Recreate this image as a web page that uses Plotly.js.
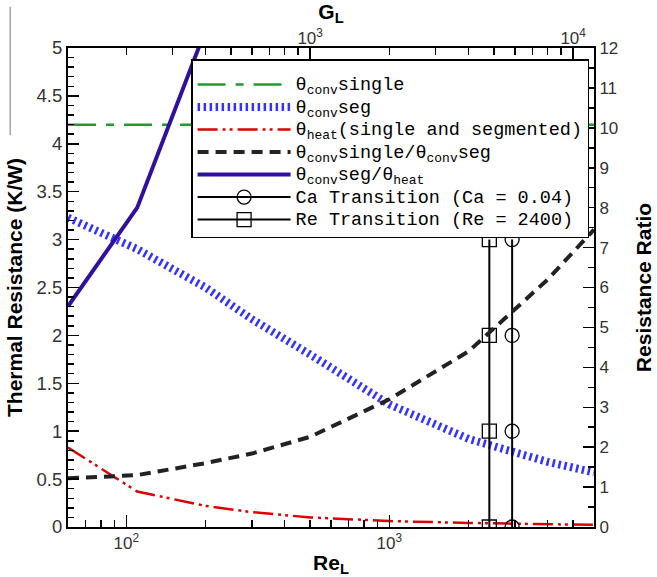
<!DOCTYPE html>
<html>
<head>
<meta charset="utf-8">
<script src="https://cdn.plot.ly/plotly-3.0.1.min.js"></script>
<style>html,body{margin:0;padding:0;background:#fff;}#chart{width:657px;height:577px;}</style>
</head>
<body>
<div id="chart"></div>
<script>
// Reynolds number samples (bottom axis)
const reL = [60, 110, 200, 300, 500, 1000, 2000, 4000, 6000];
// Top axis quantity G_L (= 2 x Re_L on this chart)
const gL = [120, 220, 400, 600, 1000, 2000, 4000, 8000, 12000];
// Left axis: thermal resistance (K/W)
const convSingle = [4.2, 4.2, 4.2, 4.2, 4.2, 4.2, 4.2, 4.2, 4.2];
const convSeg = [3.23, 2.90, 2.50, 2.17, 1.80, 1.28, 0.92, 0.68, 0.57];
const heat = [0.83, 0.37, 0.22, 0.155, 0.10, 0.062, 0.042, 0.030, 0.022];
// Right axis: resistance ratios
const ratioSingleSeg = [1.22, 1.30, 1.60, 1.84, 2.26, 3.2, 4.4, 6.2, 7.45];
const ratioSegHeat = [5.53, 8.0, 12.45, null, null, null, null, null, null];
// Transition markers
const caTransRe = [2930, 2930, 2930, 2930];
const reTransRe = [2400, 2400, 2400, 2400];
const transY = [0, 1, 2, 3];
// Legend names
const names = [
  'θ<sub>conv</sub>single',
  'θ<sub>conv</sub>seg',
  'θ<sub>heat</sub>(single and segmented)',
  'θ<sub>conv</sub>single/θ<sub>conv</sub>seg',
  'θ<sub>conv</sub>seg/θ<sub>heat</sub>',
  'Ca Transition (Ca = 0.04)',
  'Re Transition (Re = 2400)'
];
// Axis ticks
const xMajor = [100, 1000];
const xMajorText = ['10<sup>2</sup>', '10<sup>3</sup>'];
const xMinor = [70, 80, 90, 200, 300, 400, 500, 600, 700, 800, 900, 2000, 3000, 4000, 5000];
const x2Major = [1000, 10000];
const x2MajorText = ['10<sup>3</sup>', '10<sup>4</sup>'];
const x2Minor = [200, 300, 400, 500, 600, 700, 800, 900, 2000, 3000, 4000, 5000, 6000, 7000, 8000, 9000];

const big = s => '<span style="font-size:18.5px">' + s + '</span>';

const traces = [
  {x: reL, y: convSingle, name: big(names[0]), mode: 'lines', xaxis: 'x', yaxis: 'y',
   line: {color: '#1f9a2e', width: 2.5, dash: '28px,10px,8px,10px'}},
  {x: reL, y: convSeg, name: big(names[1]), mode: 'lines', xaxis: 'x', yaxis: 'y',
   line: {color: '#3333ff', width: 8, dash: '2.5px,3.5px'}},
  {x: reL, y: heat, name: big(names[2]), mode: 'lines', xaxis: 'x', yaxis: 'y',
   line: {color: '#dd0000', width: 2.5, dash: '20px,5px,3px,4px,3px,5px'}},
  {x: reL, y: ratioSingleSeg, name: big(names[3]), mode: 'lines', xaxis: 'x', yaxis: 'y2',
   line: {color: '#222222', width: 4, dash: '11px,7px'}},
  {x: reL, y: ratioSegHeat, name: big(names[4]), mode: 'lines', xaxis: 'x', yaxis: 'y2',
   line: {color: '#32109e', width: 4}},
  {x: caTransRe, y: transY, name: big(names[5]), mode: 'lines+markers', xaxis: 'x', yaxis: 'y',
   line: {color: '#000', width: 2},
   marker: {symbol: 'circle-open', size: 14, color: '#000', line: {width: 1.3, color: '#000'}}},
  {x: reTransRe, y: transY, name: big(names[6]), mode: 'lines+markers', xaxis: 'x', yaxis: 'y',
   line: {color: '#000', width: 2},
   marker: {symbol: 'square-open', size: 14, color: '#000', line: {width: 1.3, color: '#000'}}},
  // carrier for the top G_L axis (draws nothing visible)
  {x: gL, y: convSingle, mode: 'lines', xaxis: 'x2', yaxis: 'y', showlegend: false,
   hoverinfo: 'skip', opacity: 0, line: {width: 0, color: 'rgba(0,0,0,0)'}}
];

const tickFont = {family: 'Liberation Sans, Arial, sans-serif', size: 18.5, color: '#333'};
const tickFontSm = {family: 'Liberation Sans, Arial, sans-serif', size: 17, color: '#333'};
const titleFont = {family: 'Liberation Sans, Arial, sans-serif', size: 21, color: '#000', weight: 'bold'};

const layout = {
  width: 657, height: 577,
  margin: {l: 68, r: 63, t: 48, b: 50},
  paper_bgcolor: '#fff', plot_bgcolor: '#fff',
  showlegend: true,
  legend: {
    x: 0.234, y: 0.977, xanchor: 'left', yanchor: 'top',
    bgcolor: '#fff', bordercolor: '#000', borderwidth: 1.5,
    font: {family: 'Liberation Mono, Courier New, monospace', size: 15, color: '#000'},
    title: {text: '&nbsp;', font: {size: 6}},
    itemwidth: 93, traceorder: 'normal'
  },
  xaxis: {
    type: 'log', range: [Math.log10(60), Math.log10(6000)],
    showgrid: false, zeroline: false, showline: true, linecolor: '#000', linewidth: 2,
    ticks: 'inside', ticklen: 12, tickwidth: 1.5, tickcolor: '#000',
    tickmode: 'array', tickvals: xMajor, ticktext: xMajorText,
    minor: {tickmode: 'array', tickvals: xMinor, ticks: 'inside', ticklen: 7, tickwidth: 1.5, tickcolor: '#000', showgrid: false},
    tickfont: tickFontSm,
    title: {text: 'Re<sub>L</sub>', font: titleFont, standoff: 6}
  },
  xaxis2: {
    type: 'log', range: [Math.log10(120), Math.log10(12000)],
    overlaying: 'x', side: 'top', anchor: 'y',
    showgrid: false, zeroline: false, showline: true, linecolor: '#000', linewidth: 2,
    ticks: 'inside', ticklen: 12, tickwidth: 1.5, tickcolor: '#000',
    tickmode: 'array', tickvals: x2Major, ticktext: x2MajorText,
    ticklabelstandoff: -5,
    minor: {tickmode: 'array', tickvals: x2Minor, ticks: 'inside', ticklen: 7, tickwidth: 1.5, tickcolor: '#000', showgrid: false},
    tickfont: tickFontSm,
    title: {text: 'G<sub>L</sub>', font: titleFont, standoff: 0}
  },
  yaxis: {
    range: [0, 5], showgrid: false, zeroline: false, showline: true, linecolor: '#000', linewidth: 2,
    ticks: 'inside', ticklen: 11, tickwidth: 1.5, tickcolor: '#000',
    tickmode: 'linear', tick0: 0, dtick: 0.5,
    minor: {tickmode: 'linear', tick0: 0, dtick: 0.1, ticks: 'inside', ticklen: 6, tickwidth: 1.5, tickcolor: '#000', showgrid: false},
    tickfont: tickFont,
    title: {text: 'Thermal Resistance (K/W)', font: titleFont, standoff: 8}
  },
  yaxis2: {
    range: [0, 12], overlaying: 'y', side: 'right', anchor: 'x',
    showgrid: false, zeroline: false, showline: true, linecolor: '#000', linewidth: 2,
    ticks: 'inside', ticklen: 11, tickwidth: 1.5, tickcolor: '#000',
    tickmode: 'linear', tick0: 0, dtick: 1,
    minor: {tickmode: 'linear', tick0: 0, dtick: 0.5, ticks: 'inside', ticklen: 6, tickwidth: 1.5, tickcolor: '#000', showgrid: false},
    tickfont: tickFontSm,
    title: {text: 'Resistance Ratio', font: titleFont, standoff: 19}
  },
  shapes: [
    {type: 'line', xref: 'paper', yref: 'paper', x0: -0.110, x1: -0.110, y0: 1.086, y1: 0.818,
     line: {color: '#777', width: 1}}
  ]
};

Plotly.newPlot('chart', traces, layout, {displayModeBar: false, staticPlot: true});
</script>
</body>
</html>
